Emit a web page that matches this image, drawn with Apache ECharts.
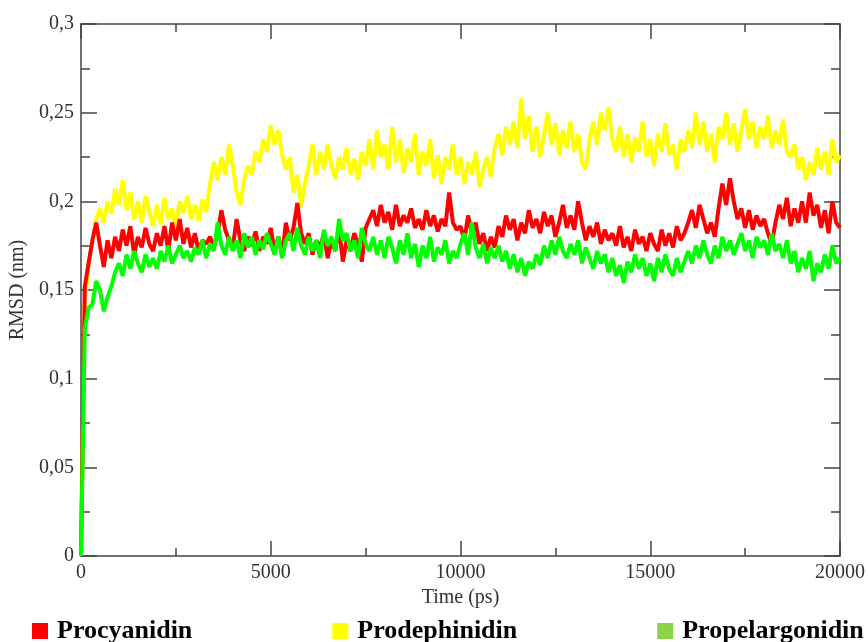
<!DOCTYPE html>
<html>
<head>
<meta charset="utf-8">
<script src="https://cdn.jsdelivr.net/npm/echarts@6/dist/echarts.min.js"></script>
<style>html,body{margin:0;padding:0;background:#fff;}#c{width:868px;height:642px;}</style>
</head>
<body>
<div id="c"></div>
<script>
// Sampling step of the trajectories (ps)
const STEP = 100;
const seriesNames = ['Procyanidin', 'Prodephinidin', 'Propelargonidin'];
const xTicks = [0, 5000, 10000, 15000, 20000];
const yTicks = [0, 0.05, 0.1, 0.15, 0.2, 0.25, 0.3];

const procyanidin = [
  0,
  0.152, 0.165, 0.178, 0.188, 0.175, 0.163, 0.178, 0.168, 0.180,
  0.172, 0.184, 0.175, 0.186, 0.170, 0.180, 0.174, 0.185, 0.176, 0.172,
  0.182, 0.175, 0.186, 0.172, 0.188, 0.178, 0.190, 0.176, 0.185, 0.174,
  0.182, 0.172, 0.178, 0.176, 0.180, 0.174, 0.182, 0.195, 0.184, 0.178,
  0.174, 0.190, 0.178, 0.172, 0.180, 0.175, 0.183, 0.172, 0.180, 0.176,
  0.185, 0.172, 0.180, 0.170, 0.188, 0.178, 0.185, 0.199, 0.182, 0.176,
  0.182, 0.170, 0.178, 0.174, 0.182, 0.168, 0.178, 0.172, 0.185, 0.166,
  0.178, 0.172, 0.182, 0.176, 0.166, 0.185, 0.190, 0.195, 0.186, 0.198,
  0.188, 0.194, 0.184, 0.198, 0.186, 0.192, 0.188, 0.196, 0.185, 0.190,
  0.184, 0.195, 0.186, 0.192, 0.183, 0.190, 0.186, 0.205, 0.188, 0.184,
  0.186, 0.178, 0.192, 0.182, 0.188, 0.176, 0.182, 0.172, 0.180, 0.174,
  0.186, 0.180, 0.192, 0.184, 0.190, 0.178, 0.188, 0.182, 0.195, 0.185,
  0.190, 0.182, 0.194, 0.186, 0.192, 0.180, 0.188, 0.198, 0.185, 0.192,
  0.184, 0.200, 0.188, 0.178, 0.186, 0.180, 0.188, 0.176, 0.184, 0.178,
  0.182, 0.175, 0.186, 0.174, 0.180, 0.172, 0.184, 0.176, 0.180, 0.172,
  0.182, 0.176, 0.172, 0.184, 0.175, 0.182, 0.174, 0.186, 0.178, 0.182,
  0.188, 0.195, 0.185, 0.198, 0.190, 0.182, 0.188, 0.180, 0.196, 0.210,
  0.198, 0.213, 0.200, 0.190, 0.196, 0.185, 0.195, 0.184, 0.192, 0.186,
  0.190, 0.182, 0.176, 0.188, 0.198, 0.190, 0.202, 0.186, 0.196, 0.188,
  0.200, 0.188, 0.205, 0.192, 0.198, 0.185, 0.195, 0.182, 0.200, 0.188,
  0.185
];

const prodephinidin = [
  0,
  0.142, 0.165, 0.178, 0.190, 0.196, 0.188, 0.200, 0.193, 0.207,
  0.198, 0.212, 0.195, 0.205, 0.190, 0.200, 0.188, 0.203, 0.194, 0.186,
  0.198, 0.187, 0.202, 0.190, 0.196, 0.185, 0.200, 0.193, 0.203, 0.190,
  0.198, 0.189, 0.201, 0.194, 0.210, 0.222, 0.212, 0.225, 0.215, 0.232,
  0.220, 0.205, 0.198, 0.212, 0.220, 0.215, 0.228, 0.222, 0.235, 0.228,
  0.243, 0.232, 0.240, 0.226, 0.218, 0.225, 0.205, 0.215, 0.197, 0.210,
  0.220, 0.232, 0.215, 0.228, 0.218, 0.232, 0.220, 0.213, 0.225, 0.218,
  0.230, 0.215, 0.224, 0.212, 0.228, 0.220, 0.235, 0.218, 0.240, 0.225,
  0.232, 0.218, 0.242, 0.222, 0.235, 0.216, 0.230, 0.222, 0.238, 0.215,
  0.228, 0.220, 0.235, 0.213, 0.226, 0.210, 0.225, 0.218, 0.232, 0.215,
  0.225, 0.210, 0.222, 0.215, 0.228, 0.208, 0.218, 0.225, 0.214, 0.230,
  0.238, 0.226, 0.242, 0.232, 0.245, 0.230, 0.258, 0.235, 0.248, 0.228,
  0.242, 0.225, 0.238, 0.250, 0.232, 0.244, 0.226, 0.240, 0.230, 0.245,
  0.228, 0.238, 0.222, 0.218, 0.235, 0.245, 0.232, 0.250, 0.240, 0.253,
  0.235, 0.228, 0.242, 0.225, 0.238, 0.222, 0.236, 0.228, 0.245, 0.225,
  0.235, 0.220, 0.238, 0.228, 0.244, 0.226, 0.232, 0.218, 0.235, 0.228,
  0.240, 0.230, 0.250, 0.232, 0.245, 0.228, 0.238, 0.222, 0.242, 0.235,
  0.250, 0.232, 0.244, 0.228, 0.240, 0.252, 0.235, 0.245, 0.230, 0.242,
  0.235, 0.248, 0.230, 0.240, 0.232, 0.246, 0.228, 0.225, 0.232, 0.218,
  0.225, 0.212, 0.222, 0.215, 0.230, 0.218, 0.228, 0.215, 0.235, 0.222,
  0.226
];

const propelargonidin = [
  0,
  0.128, 0.140, 0.142, 0.155, 0.150, 0.138, 0.146, 0.152, 0.160,
  0.165, 0.158, 0.170, 0.162, 0.172, 0.165, 0.160, 0.170, 0.163, 0.168,
  0.162, 0.172, 0.166, 0.175, 0.165, 0.170, 0.175, 0.168, 0.172, 0.166,
  0.174, 0.170, 0.178, 0.168, 0.176, 0.172, 0.188, 0.175, 0.170, 0.180,
  0.172, 0.178, 0.168, 0.182, 0.174, 0.180, 0.170, 0.178, 0.173, 0.182,
  0.176, 0.170, 0.180, 0.168, 0.178, 0.182, 0.172, 0.185, 0.175, 0.170,
  0.180, 0.172, 0.178, 0.168, 0.184, 0.175, 0.180, 0.172, 0.190, 0.178,
  0.182, 0.172, 0.178, 0.168, 0.185, 0.176, 0.172, 0.180, 0.170, 0.178,
  0.168, 0.180, 0.174, 0.165, 0.178, 0.170, 0.182, 0.168, 0.176, 0.163,
  0.175, 0.168, 0.180, 0.166, 0.174, 0.170, 0.178, 0.165, 0.172, 0.168,
  0.176, 0.182, 0.170, 0.188, 0.174, 0.168, 0.176, 0.165, 0.174, 0.168,
  0.175, 0.166, 0.172, 0.162, 0.170, 0.160, 0.168, 0.158, 0.166, 0.162,
  0.170, 0.164, 0.175, 0.168, 0.178, 0.170, 0.180, 0.172, 0.168, 0.176,
  0.170, 0.178, 0.165, 0.174, 0.168, 0.162, 0.172, 0.165, 0.170, 0.160,
  0.168, 0.158, 0.164, 0.154, 0.166, 0.160, 0.170, 0.162, 0.168, 0.158,
  0.165, 0.155, 0.168, 0.160, 0.170, 0.162, 0.158, 0.168, 0.160, 0.166,
  0.172, 0.165, 0.175, 0.168, 0.178, 0.170, 0.165, 0.175, 0.168, 0.180,
  0.172, 0.178, 0.170, 0.176, 0.182, 0.172, 0.178, 0.168, 0.180, 0.174,
  0.178, 0.170, 0.182, 0.172, 0.176, 0.168, 0.178, 0.165, 0.172, 0.160,
  0.168, 0.162, 0.172, 0.155, 0.165, 0.160, 0.170, 0.162, 0.175, 0.165,
  0.168
];

const lineColors = ['#ff0000', '#ffff00', '#00ff00'];
const legendColors = ['#ff0000', '#ffff00', '#8cd34c'];

function pairs(vals) { return vals.map((v, i) => [i * STEP, v]); }
function fmtY(v) { return parseFloat(v.toFixed(3)).toString().replace('.', ','); }
function fmtX(v) { return String(Math.round(v)); }

const FONT = '"Liberation Serif", "DejaVu Serif", serif';
const AX = '#444';
function axisLine() { return { show: true, onZero: false, lineStyle: { color: AX, width: 1.5 } }; }
function majorTick(len) { return { show: true, inside: true, length: len, lineStyle: { color: AX, width: 1.5 } }; }
function minorTick(len) { return { show: true, splitNumber: 2, length: len, lineStyle: { color: AX, width: 1.5 } }; }

const chart = echarts.init(document.getElementById('c'), null, { renderer: 'canvas' });
chart.setOption({
  animation: false,
  backgroundColor: '#fff',
  grid: { left: 81, right: 28, top: 24, bottom: 86, outerBoundsMode: 'none', containLabel: false },
  legend: {
    left: 32, top: 618, padding: 0, itemGap: 140, itemWidth: 16, itemHeight: 16,
    icon: 'rect',
    textStyle: { fontFamily: FONT, fontWeight: 'bold', fontSize: 26, color: '#000', padding: [10, 0, 0, 4] },
    data: seriesNames.map((n, i) => ({ name: n, itemStyle: { color: legendColors[i] } }))
  },
  xAxis: [
    {
      type: 'value', min: xTicks[0], max: xTicks[xTicks.length - 1], interval: 5000,
      name: 'Time (ps)', nameLocation: 'middle', nameGap: 29,
      nameTextStyle: { fontFamily: FONT, fontSize: 20, color: '#333' },
      axisLine: axisLine(), axisTick: majorTick(15), minorTick: minorTick(8),
      axisLabel: { fontFamily: FONT, fontSize: 20, color: '#333', margin: 7, formatter: fmtX },
      splitLine: { show: false }, minorSplitLine: { show: false }
    },
    {
      type: 'value', position: 'top', min: xTicks[0], max: xTicks[xTicks.length - 1], interval: 5000,
      axisLine: axisLine(), axisTick: majorTick(15), minorTick: minorTick(8),
      axisLabel: { show: false }, splitLine: { show: false }
    }
  ],
  yAxis: [
    {
      type: 'value', min: yTicks[0], max: yTicks[yTicks.length - 1], interval: 0.05,
      name: 'RMSD (nm)', nameLocation: 'middle', nameGap: 51, nameRotate: 90,
      nameTextStyle: { fontFamily: FONT, fontSize: 20, color: '#333' },
      axisLine: axisLine(), axisTick: majorTick(16), minorTick: minorTick(9),
      axisLabel: { fontFamily: FONT, fontSize: 20, color: '#333', margin: 7, formatter: fmtY },
      splitLine: { show: false }
    },
    {
      type: 'value', position: 'right', min: yTicks[0], max: yTicks[yTicks.length - 1], interval: 0.05,
      axisLine: axisLine(), axisTick: majorTick(16), minorTick: minorTick(9),
      axisLabel: { show: false }, splitLine: { show: false }
    }
  ],
  series: [
    { name: seriesNames[1], type: 'line', data: pairs(prodephinidin), showSymbol: false, symbol: 'none',
      lineStyle: { color: lineColors[1], width: 4 }, itemStyle: { color: lineColors[1] }, z: 2 },
    { name: seriesNames[0], type: 'line', data: pairs(procyanidin), showSymbol: false, symbol: 'none',
      lineStyle: { color: lineColors[0], width: 4 }, itemStyle: { color: lineColors[0] }, z: 3 },
    { name: seriesNames[2], type: 'line', data: pairs(propelargonidin), showSymbol: false, symbol: 'none',
      lineStyle: { color: lineColors[2], width: 4 }, itemStyle: { color: lineColors[2] }, z: 4 }
  ]
});
</script>
</body>
</html>
